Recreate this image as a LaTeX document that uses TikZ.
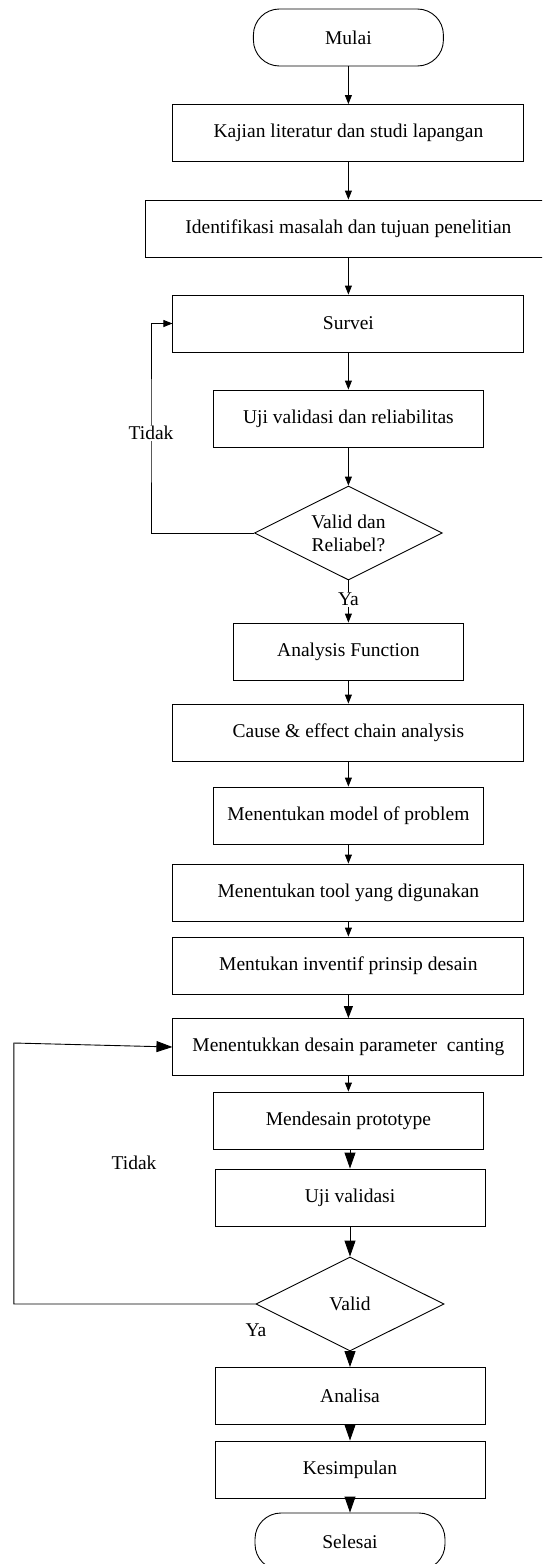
\documentclass[tikz,border=0pt]{standalone}
\usepackage{fontspec}
\setmainfont{Liberation Serif}
\usetikzlibrary{shapes.geometric,arrows.meta}
\begin{document}
\begin{tikzpicture}[x=1pt,y=-1pt,
  every node/.style={font=\fontsize{19.5}{23}\selectfont},
  box/.style={draw,line width=0.9pt,rectangle,minimum height=57pt,inner sep=0pt,align=center},
  term/.style={draw,line width=0.9pt,rectangle,rounded corners=26pt,minimum width=190pt,minimum height=57pt,inner sep=0pt},
  dec/.style={draw,line width=0.9pt,diamond,aspect=2,minimum width=188pt,minimum height=94pt,inner sep=0pt,align=center},
  lbl/.style={inner sep=1pt},
  sarr/.style={line width=0.9pt,-{Triangle[length=9pt,width=7pt]}},
  marr/.style={line width=0.9pt,-{Triangle[length=12pt,width=9pt]}},
  barr/.style={line width=0.9pt,-{Triangle[length=16pt,width=11pt]}},
  ln/.style={line width=0.9pt}]
\useasboundingbox (0,0) rectangle (542,1564);
\clip (0,0) rectangle (542,1564);
\fill[white] (0,0) rectangle (542,1564);
% nodes
\node[term] (mulai) at (348.4,37.5) {Mulai};
\node[box,minimum width=351pt] (kajian) at (348.4,133) {Kajian literatur dan studi lapangan};
\node[box,minimum width=406pt] (ident) at (348.4,228.5) {Identifikasi masalah dan tujuan penelitian};
\node[box,minimum width=351pt] (survei) at (348.4,323.5) {Survei};
\node[box,minimum width=270pt] (ujivr) at (348.4,418.5) {Uji validasi dan reliabilitas};
\node[dec] (dec1) at (348.4,533) {Valid dan\\Reliabel?};
\node[box,minimum width=230pt] (af) at (348.4,651.5) {Analysis Function};
\node[box,minimum width=351pt] (cause) at (348.4,732.5) {Cause \& effect chain analysis};
\node[box,minimum width=270pt] (model) at (348.4,815.5) {Menentukan model of problem};
\node[box,minimum width=351pt] (tool) at (348.4,892.5) {Menentukan tool yang digunakan};
\node[box,minimum width=351pt] (inv) at (348.4,965.5) {Mentukan inventif prinsip desain};
\node[box,minimum width=351pt] (desain) at (348.4,1047) {Menentukkan desain parameter~ canting};
\node[box,minimum width=270pt] (proto) at (348.4,1120.5) {Mendesain prototype};
\node[box,minimum width=270pt] (uji) at (350,1197.5) {Uji validasi};
\node[dec] (dec2) at (350,1304) {Valid};
\node[box,minimum width=270pt] (analisa) at (350,1396) {Analisa};
\node[box,minimum width=270pt] (kes) at (350,1469.5) {Kesimpulan};
\node[term] (selesai) at (350,1541.5) {Selesai};
% main flow
\draw[sarr] (mulai.south) -- (mulai.south |- kajian.north);
\draw[sarr] (kajian.south) -- (kajian.south |- ident.north);
\draw[sarr] (ident.south) -- (ident.south |- survei.north);
\draw[sarr] (survei.south) -- (survei.south |- ujivr.north);
\draw[sarr] (ujivr.south) -- (ujivr.south |- dec1.north);
\draw[sarr] (dec1.south) -- node[lbl,fill=white,pos=0.45] (ya1) {Ya} (dec1.south |- af.north);
\draw[sarr] (af.south) -- (af.south |- cause.north);
\draw[sarr] (cause.south) -- (cause.south |- model.north);
\draw[sarr] (model.south) -- (model.south |- tool.north);
\draw[sarr] (tool.south) -- (tool.south |- inv.north);
\draw[marr] (inv.south) -- (inv.south |- desain.north);
\draw[sarr] (desain.south) -- (desain.south |- proto.north);
\draw[barr] (proto.south -| uji.north) -- (uji.north);
\draw[barr] (uji.south) -- (uji.south |- dec2.north);
\draw[barr] (dec2.south) -- (dec2.south |- analisa.north);
\draw[barr] (analisa.south) -- (analisa.south |- kes.north);
\draw[barr] (kes.south) -- (kes.south |- selesai.north);
% loop 1
\coordinate (lp1) at (151,433);
\draw[sarr] (dec1.west) -| (lp1) |- (survei.west);
\node[lbl,fill=white] (tidak1) at (lp1) {Tidak};
% loop 2
\coordinate (lp2) at (13.8,1043);
\draw[barr] (dec2.west) -| (lp2) -- (desain.west);
\node[lbl] (tidak2) at (134,1163) {Tidak};
\node[lbl] (ya2) at (256,1330) {Ya};
\end{tikzpicture}
\end{document}
